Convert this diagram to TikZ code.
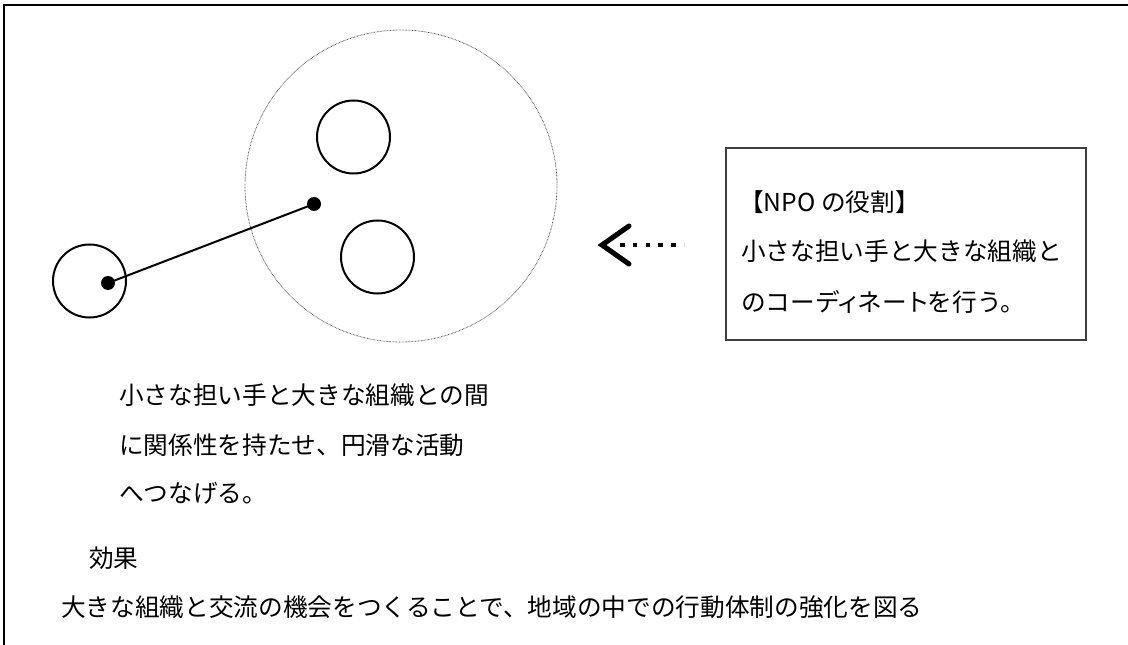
\documentclass[tikz,border=0pt]{standalone}
\usepackage{fontspec}
\setmainfont{Noto Sans CJK JP}
\begin{document}
\begin{tikzpicture}[x=0.75pt,y=-0.75pt,
  ring/.style={circle,draw=black,line width=1.5pt,minimum size=54.75pt,inner sep=0pt},
  blob/.style={circle,fill=black,minimum size=10.5pt,inner sep=0pt},
  txt/.style={anchor=west,inner sep=0pt,font=\fontsize{18.5pt}{22pt}\selectfont},
  framebox/.style={draw=black!75,line width=1pt}]
\useasboundingbox (0,0) rectangle (1128,645);
% frame
\draw[line width=1.6pt] (1128,5) -- (4,5) -- (4,645);
% big dotted circle
\node[circle,draw=black!70,line width=0.6pt,dash pattern=on 0.5pt off 0.6pt,minimum size=234pt,inner sep=0pt] (big) at (401,186) {};
\node[ring] (c1) at (353.5,137) {};
\node[ring] (c2) at (377.5,257) {};
\node[ring] (c3) at (89.5,281) {};
\node[blob] (d1) at (314,204) {};
\node[blob] (d2) at (108,283) {};
\draw[line width=1.5pt] (d2.center) -- (d1.center);
% arrow
\coordinate (tip) at (602,245);
\coordinate (a1) at (629,226);
\coordinate (a2) at (629,264);
\coordinate (ds) at (620,245);
\coordinate (de) at (684,245);
\draw[line width=3.8pt,line cap=round,line join=miter] (a1) -- (tip) -- (a2);
\draw[line width=3.4pt,dash pattern=on 3.4pt off 6.2pt] (ds) -- (de);
% right box
\draw[framebox] (726,148) rectangle (1086,340);
\node[txt] (r1) at (739,202) {【NPO の役割】};
\node[txt] (r2) at (741,251) {小さな担い手と大きな組織と};
\node[txt] (r3) at (741,302) {のコーデ\kern-2.5pt ィ\kern-2.5pt ネー\kern-1.5pt ト\kern-1.5pt を行う。};
% left text
\node[txt] (l1) at (119,395) {小さな担い手と大きな組織との間};
\node[txt] (l2) at (119,445) {に関係性を持たせ、円滑な活動};
\node[txt] (l3) at (119,493) {へつなげる。};
\node[txt] (e1) at (89,558) {効果};
\node[txt] (e2) at (61,607) {大きな組織と交流の機会をつくることで、地域の中での行動体制の強化を図る};
\end{tikzpicture}
\end{document}
